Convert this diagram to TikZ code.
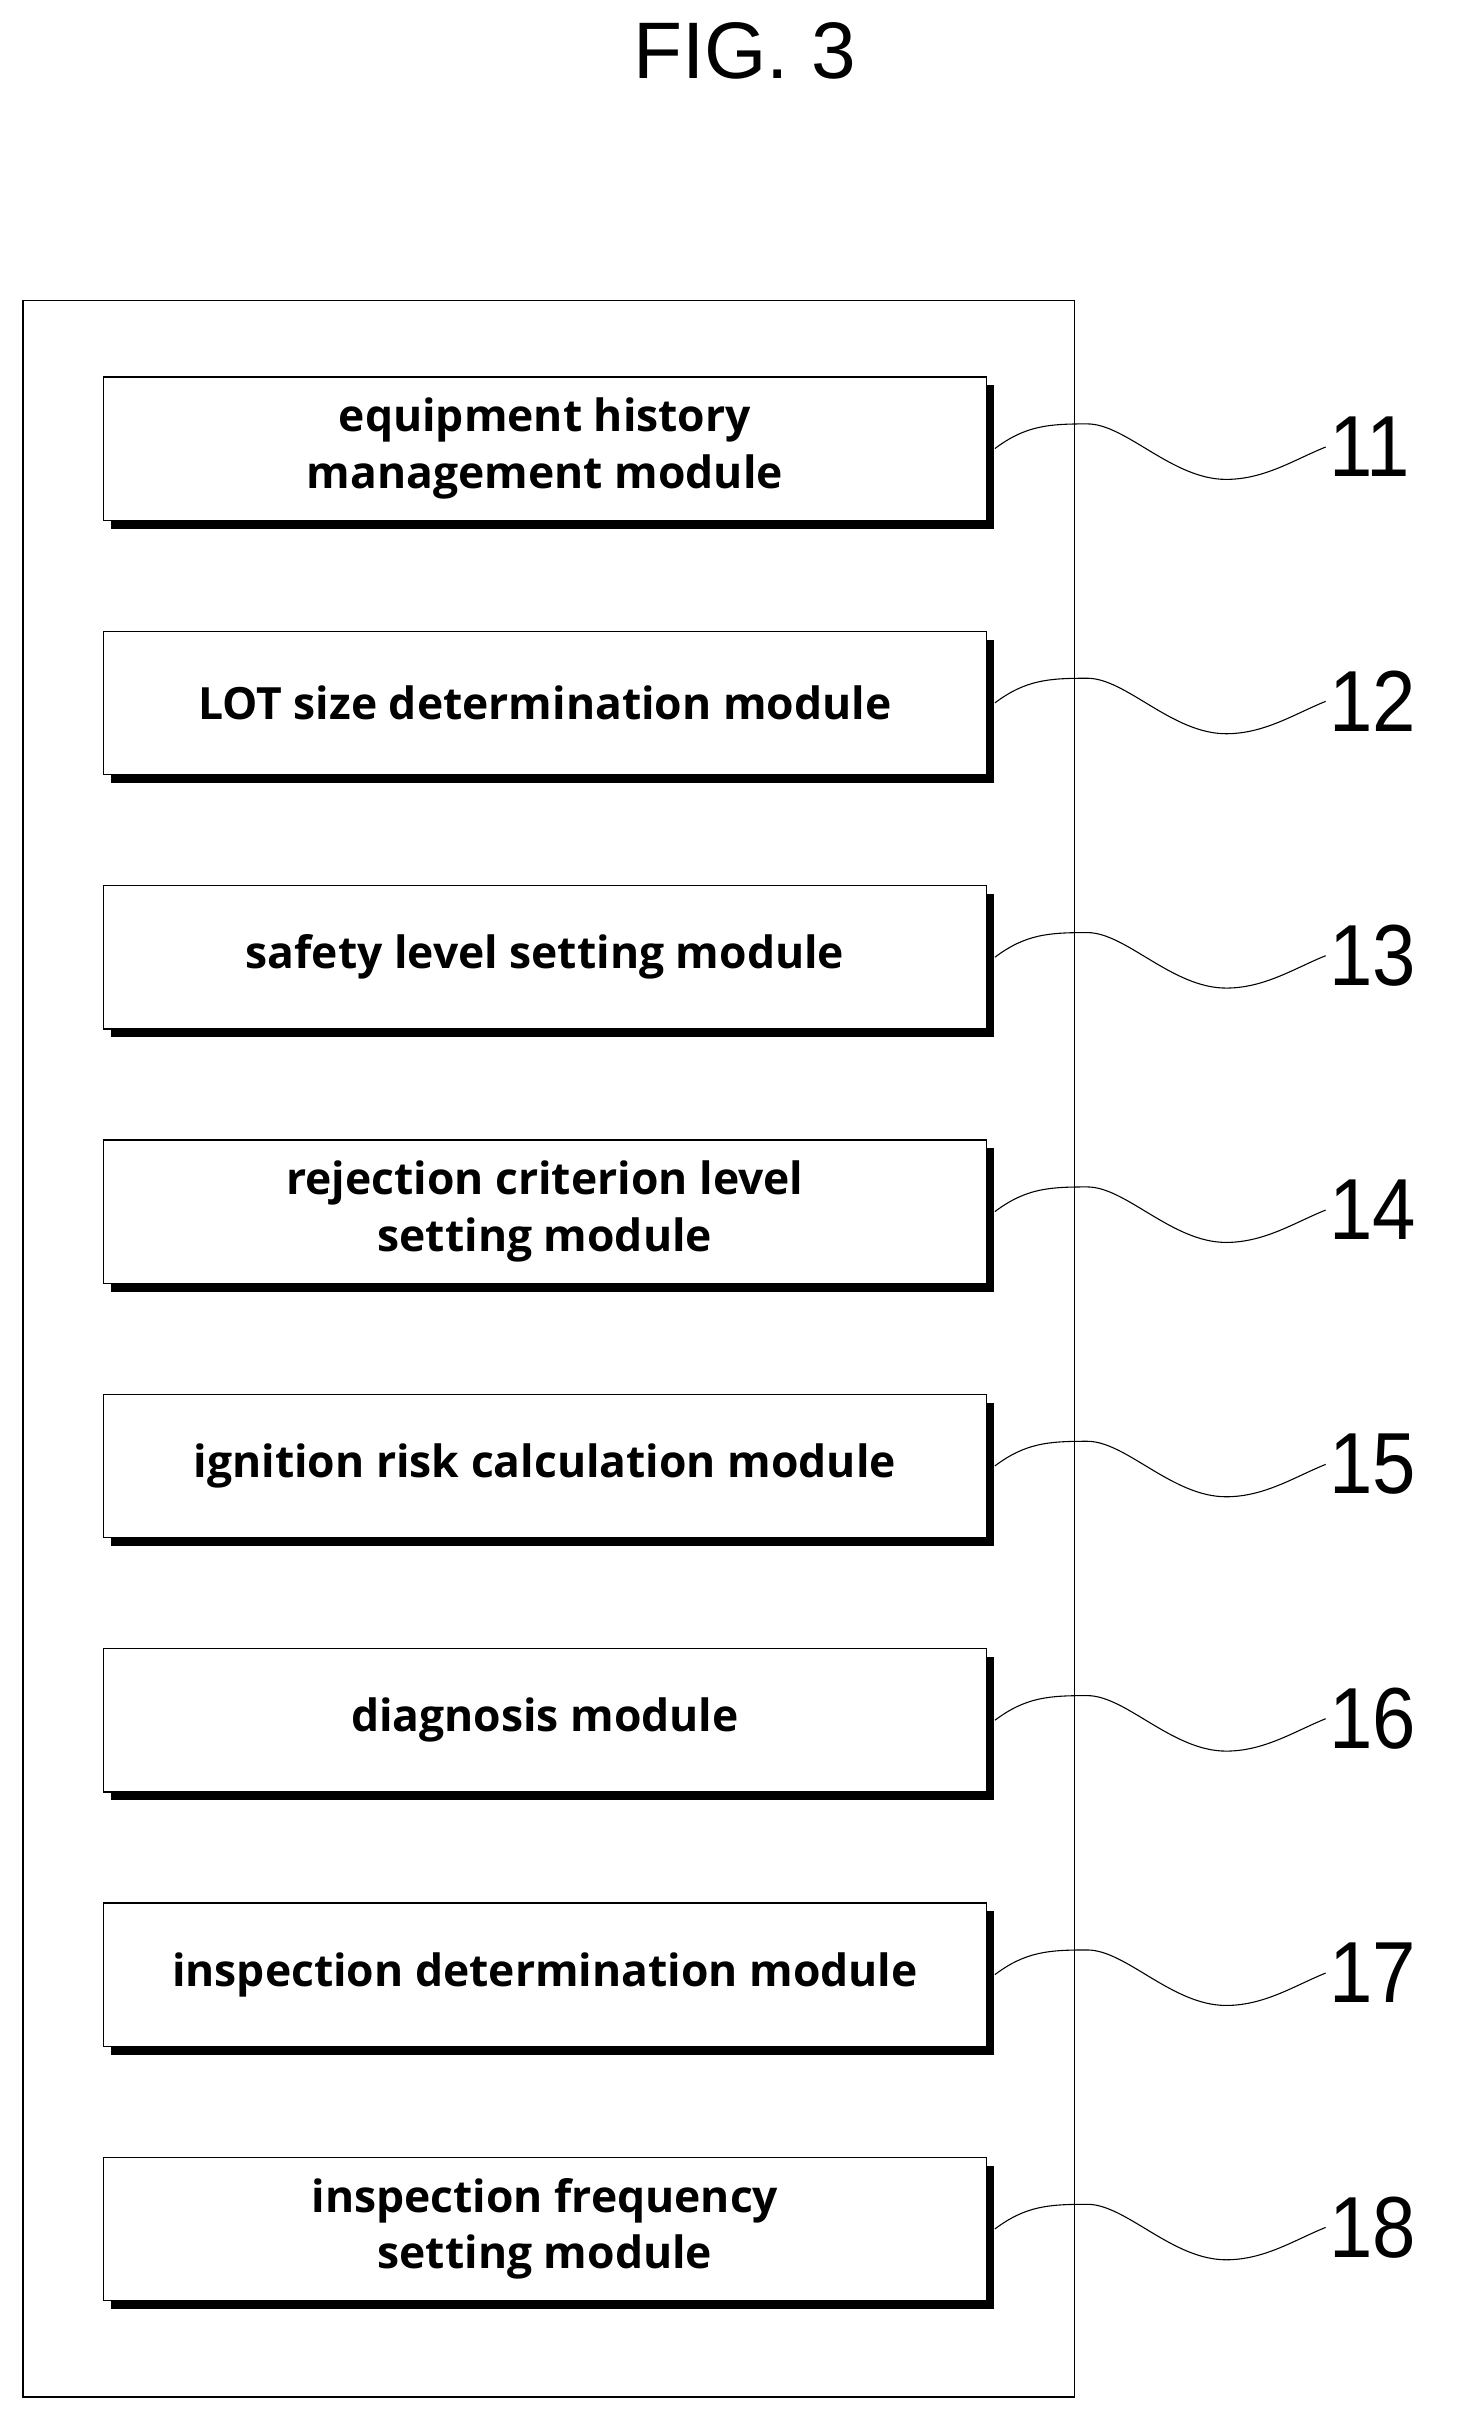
\documentclass[tikz,border=0pt]{standalone}
\usepackage{fontspec}
\setmainfont{Open Sans}
\newfontfamily\numfont{Liberation Sans}
\usetikzlibrary{positioning,calc}

\tikzset{
  module/.style={draw, fill=white, line width=1.2pt, minimum width=28.65cm,
    minimum height=4.65cm, align=center,
    font=\fontsize{41}{52}\selectfont\bfseries},
  modshadow/.style={fill=black},
  refnum/.style={font=\numfont\fontsize{80}{84}\selectfont, anchor=west,
    xscale=0.9},
  wave/.style={line width=1pt}
}

\begin{document}
\begin{tikzpicture}[x=0.05cm,y=0.05cm]
    \useasboundingbox (0,0) rectangle (950,-1568);

    % Title
    \node[font=\numfont\fontsize{74}{80}\selectfont] (title) at (483,-33) {FIG. 3};

    % Outer frame
    \draw[line width=1.5pt] (15,-195) rectangle (697,-1555);

    % Modules
    \foreach \i/\txt [count=\k from 0] in {
        11/{equipment history\\management module},
        12/{LOT size determination module},
        13/{safety level setting module},
        14/{rejection criterion level\\setting module},
        15/{ignition risk calculation module},
        16/{diagnosis module},
        17/{inspection determination module},
        18/{inspection frequency\\setting module}} {
        \fill[modshadow] (72,-296-165*\k) rectangle (645,-343-165*\k);
        \fill[modshadow] (600,-250-165*\k) rectangle (645,-343-165*\k);
        \node[module] (m\i) at (353.5,-291-165*\k) {\txt};
        \node[refnum] (n\i) at (860,-290-165*\k) {\i};
        \draw[wave] ($(m\i.east)+(5,0)$) .. controls +(20,15) and +(-25,0) ..
            ++(60,16) .. controls +(25,0) and +(-35,0) ..
            ++(90,-36) .. controls +(25,0) and +(-20,-8) ..
            (n\i.west);
    }
\end{tikzpicture}
\end{document}
